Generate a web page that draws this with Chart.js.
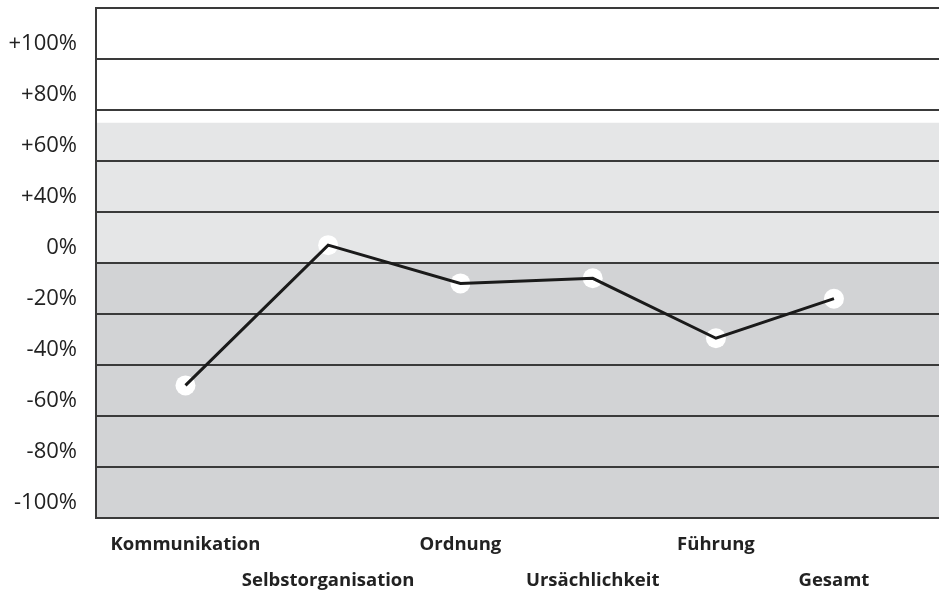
<!DOCTYPE html>
<html>
<head>
<meta charset="utf-8">
<script src="https://cdn.jsdelivr.net/npm/chart.js@4/dist/chart.umd.min.js"></script>
<style>
  html, body { margin: 0; padding: 0; background: #fff; }
</style>
</head>
<body>
<canvas id="chart" width="939" height="595"></canvas>
<script>
// Kategorien und Werte (in Prozent)
const categories = ['Kommunikation', 'Selbstorganisation', 'Ordnung', 'Ursächlichkeit', 'Führung', 'Gesamt'];
// Lage der Kategorien auf der x-Achse (im Original nicht gleichmäßig verteilt)
const categoryPos = [1, 2.10, 3.12, 4.14, 5.09, 6.0];
const values = [-48, 7, -8, -6, -29.5, -14];

// Beschriftungen der y-Achse, von oben nach unten (im Original leicht versetzt)
const yTickLabels = ['', '+100%', '+80%', '+60%', '+40%', '0%', '-20%', '-40%', '-60%', '-80%', '-100%'];

// Hintergrundbereiche (Wertebereiche)
const lightBand = [0, 55];
const darkBand = [-100, 0];

// Hintergrund-Plugin
const bandPlugin = {
  id: 'bands',
  beforeDraw(chart) {
    const { ctx, chartArea, scales } = chart;
    const y = scales.y;
    const fill = (range, color) => {
      const top = y.getPixelForValue(range[1]);
      const bottom = y.getPixelForValue(range[0]);
      ctx.save();
      ctx.fillStyle = color;
      ctx.fillRect(chartArea.left, top, chartArea.right - chartArea.left, bottom - top);
      ctx.restore();
    };
    fill(lightBand, '#e5e6e7');
    fill(darkBand, '#d2d3d5');
  }
};

const points = categoryPos.map((x, i) => ({ x: x, y: values[i] }));

new Chart(document.getElementById('chart'), {
  type: 'line',
  data: {
    datasets: [{
      data: points,
      borderColor: '#1a1a1a',
      borderWidth: 3,
      pointRadius: 0,
      tension: 0,
      order: 0
    }, {
      data: points,
      showLine: false,
      pointRadius: 10,
      pointBackgroundColor: '#ffffff',
      pointBorderWidth: 0,
      order: 1
    }]
  },
  plugins: [bandPlugin],
  options: {
    responsive: false,
    animation: false,
    devicePixelRatio: 1,
    layout: { autoPadding: false, padding: { top: 8, right: 0, left: 0, bottom: 0 } },
    plugins: {
      legend: { display: false },
      tooltip: { enabled: false }
    },
    scales: {
      x: {
        type: 'linear',
        min: 0.31,
        max: 6.81,
        afterBuildTicks: (scale) => {
          scale.ticks = categoryPos.map(v => ({ value: v }));
        },
        afterFit: (scale) => {
          scale.height = 77;
          scale.paddingLeft = 0;
          scale.paddingRight = 0;
        },
        grid: { display: false, drawTicks: false },
        border: { display: false },
        ticks: {
          autoSkip: false,
          maxRotation: 0,
          padding: 9,
          color: '#222',
          font: { family: 'Open Sans', size: 18.5, weight: 'bold', lineHeight: 1.95 },
          callback: (value, index) => index % 2 === 0 ? categories[index] : ['', categories[index]]
        }
      },
      y: {
        min: -100,
        max: 100,
        afterFit: (scale) => {
          scale.width = 96;
          scale.paddingTop = 0;
          scale.paddingBottom = 0;
        },
        grid: { color: '#3a3a3a', lineWidth: 2, drawTicks: false },
        border: { display: true, color: '#3a3a3a', width: 2 },
        ticks: {
          stepSize: 20,
          padding: 19,
          labelOffset: -15,
          color: '#222',
          font: { family: 'Open Sans', size: 22 },
          callback: (value) => yTickLabels[Math.round((100 - value) / 20)]
        }
      }
    }
  }
});
</script>
</body>
</html>
